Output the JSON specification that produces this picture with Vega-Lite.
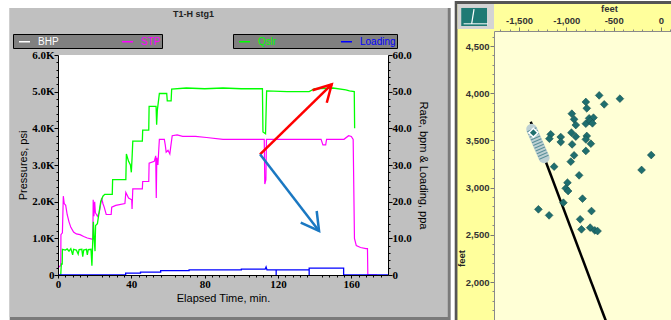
{
  "$schema": "https://vega.github.io/schema/vega-lite/v6.json",
  "background": "white",
  "padding": {"left": 9, "top": 0, "right": 0, "bottom": 0},
  "autosize": {"type": "pad"},
  "bounds": "flush",
  "spacing": 106,
  "config": {"view": {"stroke": null}, "font": "Liberation Sans"},
  "hconcat": [
    {
      "width": 330,
      "height": 244,
      "title": {"text": "T1-H stg1", "anchor": "start", "frame": "group", "dx": 115, "offset": -18, "baseline": "alphabetic", "fontSize": 9, "font": "Liberation Sans", "fontWeight": "bold", "color": "#222222"},
      "layer": [
        {
          "layer": [
            {
              "data": {"values": [{}]},
              "mark": {"type": "rect", "color": "#7a7a7a", "clip": false},
              "encoding": {
                "x": {"datum": -26.35, "type": "quantitative", "scale": {"domain": [0, 180], "nice": false}},
                "x2": {"datum": 214.2},
                "y": {"datum": -1227, "type": "quantitative", "scale": {"domain": [0, 6000], "range": [244, 24], "nice": false}},
                "y2": {"datum": 7282}
              }
            },
            {
              "data": {"values": [{}]},
              "mark": {"type": "rect", "color": "#c0c0c0", "clip": false},
              "encoding": {
                "x": {"datum": -26.35, "type": "quantitative", "scale": {"domain": [0, 180], "nice": false}},
                "x2": {"datum": 212.6},
                "y": {"datum": -1145, "type": "quantitative", "scale": {"domain": [0, 6000], "range": [244, 24], "nice": false}},
                "y2": {"datum": 7282}
              }
            },
            {
              "data": {"values": [{}]},
              "mark": {"type": "rect", "color": "#ffffff", "clip": false},
              "encoding": {
                "x": {"datum": 0, "type": "quantitative", "scale": {"domain": [0, 180], "nice": false}},
                "x2": {"datum": 180},
                "y": {"datum": 0, "type": "quantitative", "scale": {"domain": [0, 6000], "range": [244, 24], "nice": false}},
                "y2": {"datum": 6000}
              }
            },
            {
              "data": {"values": [
                {"t": 0, "p": 200, "s": "STP"}, {"t": 1.2, "p": 250, "s": "STP"}, {"t": 1.5, "p": 250, "s": "STP"}, {"t": 1.6, "p": 1100, "s": "STP"}, {"t": 2.4, "p": 1150, "s": "STP"}, {"t": 2.9, "p": 2150, "s": "STP"}, {"t": 3.4, "p": 1950, "s": "STP"}, {"t": 4.2, "p": 1900, "s": "STP"}, {"t": 5, "p": 1650, "s": "STP"}, {"t": 6, "p": 1450, "s": "STP"}, {"t": 7, "p": 1300, "s": "STP"}, {"t": 8.5, "p": 1170, "s": "STP"}, {"t": 10, "p": 1120, "s": "STP"}, {"t": 12, "p": 1100, "s": "STP"}, {"t": 14, "p": 1050, "s": "STP"}, {"t": 16, "p": 1010, "s": "STP"}, {"t": 18.5, "p": 980, "s": "STP"}, {"t": 19, "p": 980, "s": "STP"}, {"t": 19.2, "p": 2050, "s": "STP"}, {"t": 19.6, "p": 1600, "s": "STP"}, {"t": 20, "p": 2000, "s": "STP"}, {"t": 20.4, "p": 1700, "s": "STP"}, {"t": 21.5, "p": 1600, "s": "STP"}, {"t": 22.5, "p": 1700, "s": "STP"}, {"t": 23, "p": 1850, "s": "STP"}, {"t": 23.8, "p": 2100, "s": "STP"}, {"t": 24.5, "p": 1950, "s": "STP"}, {"t": 25.2, "p": 1850, "s": "STP"}, {"t": 26.3, "p": 1650, "s": "STP"}, {"t": 29, "p": 1650, "s": "STP"}, {"t": 29.3, "p": 1850, "s": "STP"}, {"t": 31.5, "p": 1900, "s": "STP"}, {"t": 36.5, "p": 1950, "s": "STP"}, {"t": 37, "p": 2250, "s": "STP"}, {"t": 38.5, "p": 2100, "s": "STP"}, {"t": 40.2, "p": 2050, "s": "STP"}, {"t": 40.4, "p": 1800, "s": "STP"}, {"t": 40.8, "p": 2350, "s": "STP"}, {"t": 46, "p": 2350, "s": "STP"}, {"t": 46.2, "p": 2550, "s": "STP"}, {"t": 49.5, "p": 2550, "s": "STP"}, {"t": 49.7, "p": 3050, "s": "STP"}, {"t": 52.5, "p": 3100, "s": "STP"}, {"t": 53.3, "p": 3250, "s": "STP"}, {"t": 53.6, "p": 2100, "s": "STP"}, {"t": 53.9, "p": 3200, "s": "STP"}, {"t": 54.5, "p": 3000, "s": "STP"}, {"t": 55, "p": 3450, "s": "STP"}, {"t": 55.3, "p": 3700, "s": "STP"}, {"t": 58, "p": 3700, "s": "STP"}, {"t": 58.5, "p": 3550, "s": "STP"}, {"t": 59, "p": 3350, "s": "STP"}, {"t": 60, "p": 3400, "s": "STP"}, {"t": 61, "p": 3300, "s": "STP"}, {"t": 61.5, "p": 3500, "s": "STP"}, {"t": 62.3, "p": 3800, "s": "STP"}, {"t": 65, "p": 3820, "s": "STP"}, {"t": 68, "p": 3780, "s": "STP"}, {"t": 75, "p": 3780, "s": "STP"}, {"t": 81, "p": 3750, "s": "STP"}, {"t": 90, "p": 3700, "s": "STP"}, {"t": 100, "p": 3700, "s": "STP"}, {"t": 112.5, "p": 3700, "s": "STP"}, {"t": 112.8, "p": 2480, "s": "STP"}, {"t": 113.4, "p": 2600, "s": "STP"}, {"t": 113.7, "p": 3700, "s": "STP"}, {"t": 143.5, "p": 3700, "s": "STP"}, {"t": 144.5, "p": 3550, "s": "STP"}, {"t": 146, "p": 3550, "s": "STP"}, {"t": 146.5, "p": 3700, "s": "STP"}, {"t": 156, "p": 3700, "s": "STP"}, {"t": 158.5, "p": 3800, "s": "STP"}, {"t": 160, "p": 3780, "s": "STP"}, {"t": 161, "p": 3700, "s": "STP"}, {"t": 161.7, "p": 1000, "s": "STP"}, {"t": 162.7, "p": 800, "s": "STP"}, {"t": 165, "p": 750, "s": "STP"}, {"t": 168, "p": 720, "s": "STP"}, {"t": 168.8, "p": 720, "s": "STP"}, {"t": 169, "p": 0, "s": "STP"}, {"t": 174, "p": 0, "s": "STP"}
              ]},
              "mark": {"type": "line", "strokeWidth": 1.2},
              "encoding": {
                "x": {"field": "t", "type": "quantitative", "scale": {"domain": [0, 180], "nice": false},
                  "axis": {"orient": "bottom", "values": [0, 20, 40, 60, 80, 100, 120, 140, 160, 180], "title": "Elapsed Time, min.", "labelFont": "Liberation Serif", "labelFontWeight": "bold", "labelFontSize": 11, "labelColor": "#000000", "tickColor": "#000000", "domainColor": "#000000", "tickSize": 3, "labelPadding": 0, "titleFont": "Liberation Sans", "titleFontSize": 11, "titleFontWeight": "normal", "titleColor": "#000000", "titlePadding": 3, "grid": false, "zindex": 1, "labelFlush": false}},
                "y": {"field": "p", "type": "quantitative", "scale": {"domain": [0, 6000], "range": [244, 24], "nice": false},
                  "axis": {"orient": "left", "values": [0, 1000, 2000, 3000, 4000, 5000, 6000], "labelExpr": "datum.value == 0 ? '0' : format(datum.value / 1000, '.1f') + 'K'", "title": "Pressures, psi", "labelFont": "Liberation Serif", "labelFontWeight": "bold", "labelFontSize": 11, "labelColor": "#000000", "tickColor": "#000000", "domainColor": "#000000", "tickSize": 4, "labelPadding": 0, "titleFont": "Liberation Sans", "titleFontSize": 11, "titleFontWeight": "normal", "titleColor": "#000000", "titlePadding": 3, "grid": false, "zindex": 1, "labelFlush": false}},
                "color": {"field": "s", "type": "nominal", "scale": {"domain": ["BHP", "STP"], "range": ["#ffffff", "#ff00ff"]},
                  "legend": {"orient": "none", "legendX": -45, "legendY": 3, "direction": "horizontal", "columns": 2, "title": null, "fillColor": "#808080", "strokeColor": "#000000", "padding": 1, "symbolType": "stroke", "symbolSize": 121, "symbolStrokeWidth": 1.5, "symbolOffset": 4, "labelFont": "Liberation Sans", "labelFontSize": 10, "labelOffset": 7, "columnPadding": 58, "labelExpr": "datum.value == 'STP' ? 'STP                       ' : datum.label", "encode": {"labels": {"update": {"fill": {"signal": "datum.value == 'STP' ? '#ff00ff' : '#ffffff'"}}}}}}
              }
            }
          ]
        },
        {
          "data": {"values": [
            {"t": 1.5, "r": 0, "s": "Qslr"}, {"t": 1.8, "r": 3, "s": "Qslr"}, {"t": 2.3, "r": 3, "s": "Qslr"}, {"t": 2.4, "r": 7, "s": "Qslr"}, {"t": 4, "r": 6.8, "s": "Qslr"}, {"t": 5, "r": 7.1, "s": "Qslr"}, {"t": 6, "r": 6.5, "s": "Qslr"}, {"t": 7, "r": 7.2, "s": "Qslr"}, {"t": 8, "r": 5.5, "s": "Qslr"}, {"t": 8.5, "r": 7, "s": "Qslr"}, {"t": 10, "r": 6.8, "s": "Qslr"}, {"t": 11, "r": 5.7, "s": "Qslr"}, {"t": 11.5, "r": 6.9, "s": "Qslr"}, {"t": 13, "r": 7, "s": "Qslr"}, {"t": 13.5, "r": 5, "s": "Qslr"}, {"t": 14, "r": 6.8, "s": "Qslr"}, {"t": 15.5, "r": 7, "s": "Qslr"}, {"t": 16, "r": 5.5, "s": "Qslr"}, {"t": 16.5, "r": 6.9, "s": "Qslr"}, {"t": 18, "r": 7, "s": "Qslr"}, {"t": 18.5, "r": 2.5, "s": "Qslr"}, {"t": 18.8, "r": 7, "s": "Qslr"}, {"t": 19.3, "r": 14.5, "s": "Qslr"}, {"t": 19.7, "r": 10, "s": "Qslr"}, {"t": 20.2, "r": 6.5, "s": "Qslr"}, {"t": 20.5, "r": 13.5, "s": "Qslr"}, {"t": 21.5, "r": 14, "s": "Qslr"}, {"t": 22.4, "r": 17, "s": "Qslr"}, {"t": 23.3, "r": 20, "s": "Qslr"}, {"t": 24.5, "r": 21.5, "s": "Qslr"}, {"t": 25.5, "r": 22, "s": "Qslr"}, {"t": 29.6, "r": 22, "s": "Qslr"}, {"t": 29.8, "r": 26, "s": "Qslr"}, {"t": 37, "r": 26, "s": "Qslr"}, {"t": 37.3, "r": 33, "s": "Qslr"}, {"t": 38.5, "r": 31, "s": "Qslr"}, {"t": 39.5, "r": 30, "s": "Qslr"}, {"t": 40, "r": 28, "s": "Qslr"}, {"t": 40.4, "r": 32, "s": "Qslr"}, {"t": 40.8, "r": 36.5, "s": "Qslr"}, {"t": 46, "r": 36.5, "s": "Qslr"}, {"t": 46.2, "r": 39.5, "s": "Qslr"}, {"t": 49.5, "r": 39.5, "s": "Qslr"}, {"t": 49.7, "r": 46, "s": "Qslr"}, {"t": 53.5, "r": 46, "s": "Qslr"}, {"t": 53.8, "r": 41, "s": "Qslr"}, {"t": 54.2, "r": 45, "s": "Qslr"}, {"t": 55.3, "r": 49.5, "s": "Qslr"}, {"t": 59.3, "r": 49.5, "s": "Qslr"}, {"t": 59.6, "r": 47.5, "s": "Qslr"}, {"t": 61.7, "r": 47.5, "s": "Qslr"}, {"t": 62, "r": 50.7, "s": "Qslr"}, {"t": 70, "r": 51, "s": "Qslr"}, {"t": 80, "r": 50.8, "s": "Qslr"}, {"t": 90, "r": 51, "s": "Qslr"}, {"t": 100, "r": 50.8, "s": "Qslr"}, {"t": 111.5, "r": 50.8, "s": "Qslr"}, {"t": 111.8, "r": 39, "s": "Qslr"}, {"t": 113.2, "r": 38.5, "s": "Qslr"}, {"t": 113.8, "r": 50.2, "s": "Qslr"}, {"t": 125, "r": 50, "s": "Qslr"}, {"t": 137, "r": 50, "s": "Qslr"}, {"t": 140, "r": 50.8, "s": "Qslr"}, {"t": 150, "r": 51, "s": "Qslr"}, {"t": 157, "r": 50.5, "s": "Qslr"}, {"t": 159, "r": 50.2, "s": "Qslr"}, {"t": 161.6, "r": 50, "s": "Qslr"}, {"t": 161.8, "r": 40, "s": "Qslr"},
            {"t": 0, "r": 0, "s": "Loading"}, {"t": 36.9, "r": 0, "s": "Loading"}, {"t": 36.9, "r": 0.5, "s": "Loading"}, {"t": 45, "r": 0.5, "s": "Loading"}, {"t": 45, "r": 0.8, "s": "Loading"}, {"t": 56, "r": 0.8, "s": "Loading"}, {"t": 56, "r": 1.2, "s": "Loading"}, {"t": 71.5, "r": 1.2, "s": "Loading"}, {"t": 71.5, "r": 1.4, "s": "Loading"}, {"t": 100, "r": 1.4, "s": "Loading"}, {"t": 100, "r": 1.6, "s": "Loading"}, {"t": 113, "r": 1.6, "s": "Loading"}, {"t": 113.5, "r": 2.2, "s": "Loading"}, {"t": 114, "r": 1.4, "s": "Loading"}, {"t": 119, "r": 1.4, "s": "Loading"}, {"t": 119, "r": 0, "s": "Loading"}, {"t": 119, "r": 1.4, "s": "Loading"}, {"t": 137, "r": 1.4, "s": "Loading"}, {"t": 137, "r": 0, "s": "Loading"}, {"t": 137, "r": 1.9, "s": "Loading"}, {"t": 155.8, "r": 1.9, "s": "Loading"}, {"t": 155.8, "r": 0, "s": "Loading"}, {"t": 180, "r": 0, "s": "Loading"}
          ]},
          "mark": {"type": "line", "strokeWidth": 1.3},
          "encoding": {
            "x": {"field": "t", "type": "quantitative", "axis": null},
            "y": {"field": "r", "type": "quantitative", "scale": {"domain": [0, 60], "range": [244, 24], "nice": false},
              "axis": {"orient": "right", "values": [0, 10, 20, 30, 40, 50, 60], "labelExpr": "datum.value == 0 ? '0' : format(datum.value, '.1f')", "title": "Rate, bpm & Loading, ppa", "labelFont": "Liberation Serif", "labelFontWeight": "bold", "labelFontSize": 11, "labelColor": "#000000", "tickColor": "#000000", "domainColor": "#000000", "tickSize": 4, "labelPadding": 0, "titleFont": "Liberation Sans", "titleFontSize": 11, "titleFontWeight": "normal", "titleColor": "#000000", "titlePadding": 6, "grid": false, "zindex": 1, "labelFlush": false}},
            "color": {"field": "s", "type": "nominal", "scale": {"domain": ["Qslr", "Loading"], "range": ["#00ff00", "#0000ff"]},
              "legend": {"orient": "none", "legendX": 175, "legendY": 3, "direction": "horizontal", "columns": 2, "title": null, "fillColor": "#808080", "strokeColor": "#000000", "padding": 1, "symbolType": "stroke", "symbolSize": 121, "symbolStrokeWidth": 1.5, "symbolOffset": 4, "labelFont": "Liberation Sans", "labelFontSize": 10, "labelOffset": 7, "columnPadding": 59, "labelExpr": "datum.value == 'Loading' ? 'Loading                 ' : datum.label", "encode": {"labels": {"update": {"fill": {"signal": "datum.value == 'Qslr' ? '#00ff00' : '#0000ff'"}}}}}}
          }
        },
        {
          "layer": [
            {
              "data": {"values": [
                {"g": "shaft", "k": 1, "t": 110.2, "p": 3291}, {"g": "shaft", "k": 2, "t": 149.3, "p": 5200},
                {"g": "head", "k": 1, "t": 138.8, "p": 5037}, {"g": "head", "k": 2, "t": 149.3, "p": 5200}, {"g": "head", "k": 3, "t": 146.6, "p": 4699}
              ]},
              "mark": {"type": "line", "color": "#ff0000", "strokeWidth": 2.5},
              "encoding": {
                "x": {"field": "t", "type": "quantitative", "axis": null},
                "y": {"field": "p", "type": "quantitative", "scale": {"domain": [0, 6000], "range": [244, 24], "nice": false}, "axis": null},
                "detail": {"field": "g"},
                "order": {"field": "k"}
              }
            },
            {
              "data": {"values": [
                {"g": "shaft", "k": 1, "t": 110.2, "p": 3291}, {"g": "shaft", "k": 2, "t": 142.4, "p": 1200},
                {"g": "head", "k": 1, "t": 132.4, "p": 1426}, {"g": "head", "k": 2, "t": 142.4, "p": 1200}, {"g": "head", "k": 3, "t": 141.1, "p": 1745}
              ]},
              "mark": {"type": "line", "color": "#1a78c2", "strokeWidth": 2.5},
              "encoding": {
                "x": {"field": "t", "type": "quantitative", "axis": null},
                "y": {"field": "p", "type": "quantitative", "scale": {"domain": [0, 6000], "range": [244, 24], "nice": false}, "axis": null},
                "detail": {"field": "g"},
                "order": {"field": "k"}
              }
            }
          ]
        },
        {
          "data": {"values": [{}]},
          "mark": {"type": "point", "opacity": 0},
          "encoding": {
            "x": {"datum": 0, "type": "quantitative",
              "axis": {"orient": "bottom", "values": [4, 8, 12, 16, 24, 28, 32, 36, 44, 48, 52, 56, 64, 68, 72, 76, 84, 88, 92, 96, 104, 108, 112, 116, 124, 128, 132, 136, 144, 148, 152, 156, 164, 168, 172, 176], "labels": false, "domain": false, "title": null, "tickSize": 2, "tickColor": "#000000", "grid": false, "zindex": 1}},
            "y": {"datum": 0, "type": "quantitative", "scale": {"domain": [0, 6000], "range": [244, 24], "nice": false},
              "axis": {"orient": "left", "values": [200, 400, 600, 800, 1200, 1400, 1600, 1800, 2200, 2400, 2600, 2800, 3200, 3400, 3600, 3800, 4200, 4400, 4600, 4800, 5200, 5400, 5600, 5800], "labels": false, "domain": false, "title": null, "tickSize": 2, "tickColor": "#000000", "grid": false, "zindex": 1}}
          }
        },
        {
          "data": {"values": [{}]},
          "mark": {"type": "point", "opacity": 0},
          "encoding": {
            "x": {"datum": 0, "type": "quantitative", "axis": null},
            "y": {"datum": 0, "type": "quantitative", "scale": {"domain": [0, 60], "range": [244, 24], "nice": false},
              "axis": {"orient": "right", "values": [2, 4, 6, 8, 12, 14, 16, 18, 22, 24, 26, 28, 32, 34, 36, 38, 42, 44, 46, 48, 52, 54, 56, 58], "labels": false, "domain": false, "title": null, "tickSize": 2, "tickColor": "#000000", "grid": false, "zindex": 1}}
          }
        }
      ],
      "resolve": {"scale": {"y": "independent", "color": "independent"}, "axis": {"x": "independent"}}
    },
    {
      "width": 177,
      "height": 290,
      "layer": [
        {
          "layer": [
            {
              "data": {"values": [{}]},
              "mark": {"type": "rect", "color": "#555555", "clip": false},
              "encoding": {
                "x": {"datum": -2179, "type": "quantitative", "scale": {"domain": [-1764, 105.7], "nice": false, "zero": false}},
                "x2": {"datum": 105.7},
                "y": {"datum": 1587, "type": "quantitative", "scale": {"domain": [1587, 4659], "nice": false, "zero": false}},
                "y2": {"datum": 4977}
              }
            },
            {
              "data": {"values": [{}]},
              "mark": {"type": "rect", "color": "#ffff9c", "clip": false},
              "encoding": {
                "x": {"datum": -2150, "type": "quantitative", "scale": {"domain": [-1764, 105.7], "nice": false, "zero": false}},
                "x2": {"datum": 105.7},
                "y": {"datum": 1587, "type": "quantitative", "scale": {"domain": [1587, 4659], "nice": false, "zero": false}},
                "y2": {"datum": 4945}
              }
            },
            {
              "data": {"values": [{}]},
              "mark": {"type": "rect", "color": "#d4d4d4", "clip": false},
              "encoding": {
                "x": {"datum": -2150, "type": "quantitative", "scale": {"domain": [-1764, 105.7], "nice": false, "zero": false}},
                "x2": {"datum": -1764},
                "y": {"datum": 4680, "type": "quantitative", "scale": {"domain": [1587, 4659], "nice": false, "zero": false}},
                "y2": {"datum": 4945}
              }
            },
            {
              "data": {"values": [{}]},
              "mark": {"type": "rect", "color": "#1f7a74", "clip": false},
              "encoding": {
                "x": {"datum": -2110, "type": "quantitative", "scale": {"domain": [-1764, 105.7], "nice": false, "zero": false}},
                "x2": {"datum": -1838},
                "y": {"datum": 4712, "type": "quantitative", "scale": {"domain": [1587, 4659], "nice": false, "zero": false}},
                "y2": {"datum": 4903}
              }
            },
            {
              "data": {"values": [{"gx": -1975, "gy": 4890}, {"gx": -2000, "gy": 4735}]},
              "mark": {"type": "line", "color": "#ffffff", "strokeWidth": 1.2, "clip": false},
              "encoding": {
                "x": {"field": "gx", "type": "quantitative", "scale": {"domain": [-1764, 105.7], "nice": false, "zero": false}},
                "y": {"field": "gy", "type": "quantitative", "scale": {"domain": [1587, 4659], "nice": false, "zero": false}}
              }
            },
            {
              "data": {"values": [{"gx": -2085, "gy": 4735}, {"gx": -1830, "gy": 4735}]},
              "mark": {"type": "line", "color": "#ffffff", "strokeWidth": 1, "clip": false},
              "encoding": {
                "x": {"field": "gx", "type": "quantitative", "scale": {"domain": [-1764, 105.7], "nice": false, "zero": false}},
                "y": {"field": "gy", "type": "quantitative", "scale": {"domain": [1587, 4659], "nice": false, "zero": false}}
              }
            },
            {
              "data": {"values": [{}]},
              "mark": {"type": "rect", "color": "#ffffd6", "clip": false},
              "encoding": {
                "x": {"datum": -1764, "type": "quantitative", "scale": {"domain": [-1764, 105.7], "nice": false, "zero": false}},
                "x2": {"datum": 105.7},
                "y": {"datum": 1587, "type": "quantitative", "scale": {"domain": [1587, 4659], "nice": false, "zero": false}},
                "y2": {"datum": 4659}
              }
            },
            {
              "data": {"values": [{"x": -1376, "y": 3698}, {"x": -582, "y": 1587}]},
              "mark": {"type": "line", "color": "#000000", "strokeWidth": 2.5},
              "encoding": {
                "x": {"field": "x", "type": "quantitative", "scale": {"domain": [-1764, 105.7], "nice": false, "zero": false}},
                "y": {"field": "y", "type": "quantitative", "scale": {"domain": [1587, 4659], "nice": false, "zero": false}}
              }
            },
            {
              "data": {"values": [{"x": -1366, "y": 3617}, {"x": -1235, "y": 3317}]},
              "mark": {"type": "line", "color": "#bdd0d3", "strokeWidth": 11, "strokeCap": "round"},
              "encoding": {
                "x": {"field": "x", "type": "quantitative", "scale": {"domain": [-1764, 105.7], "nice": false, "zero": false}},
                "y": {"field": "y", "type": "quantitative", "scale": {"domain": [1587, 4659], "nice": false, "zero": false}}
              }
            },
            {
              "data": {"values": [{"x": -1366, "y": 3617}, {"x": -1235, "y": 3317}]},
              "mark": {"type": "line", "color": "#5a9098", "strokeWidth": 10, "strokeDash": [1, 2]},
              "encoding": {
                "x": {"field": "x", "type": "quantitative", "scale": {"domain": [-1764, 105.7], "nice": false, "zero": false}},
                "y": {"field": "y", "type": "quantitative", "scale": {"domain": [1587, 4659], "nice": false, "zero": false}}
              }
            },
            {
              "data": {"values": [
                {"x": -653, "y": 3977}, {"x": -434, "y": 3942}, {"x": -600, "y": 3882}, {"x": -794, "y": 3907}, {"x": -784, "y": 3840},
                {"x": -942, "y": 3783}, {"x": -918, "y": 3723}, {"x": -759, "y": 3734}, {"x": -713, "y": 3741}, {"x": -794, "y": 3677},
                {"x": -900, "y": 3663}, {"x": -748, "y": 3705}, {"x": -724, "y": 3681}, {"x": -946, "y": 3582}, {"x": -900, "y": 3540},
                {"x": -784, "y": 3547}, {"x": -794, "y": 3511}, {"x": -741, "y": 3465}, {"x": -939, "y": 3458}, {"x": -1059, "y": 3536},
                {"x": -1165, "y": 3564}, {"x": -1179, "y": 3518}, {"x": -1059, "y": 3483}, {"x": -918, "y": 3342}, {"x": -794, "y": 3388},
                {"x": -953, "y": 3275}, {"x": -1129, "y": 3222}, {"x": -865, "y": 3130}, {"x": -988, "y": 3052}, {"x": -1006, "y": 2992},
                {"x": -981, "y": 2964}, {"x": -1031, "y": 2840}, {"x": -829, "y": 2883}, {"x": -1295, "y": 2770}, {"x": -1182, "y": 2706},
                {"x": -854, "y": 2664}, {"x": -734, "y": 2752}, {"x": -840, "y": 2558}, {"x": -748, "y": 2576}, {"x": -699, "y": 2547},
                {"x": -670, "y": 2540}, {"x": -205, "y": 3187}, {"x": -103, "y": 3345}
              ]},
              "mark": {"type": "point", "shape": "diamond", "filled": true, "fill": "#1f6e6e", "stroke": "#154f4f", "strokeWidth": 0.6, "size": 60, "opacity": 1},
              "encoding": {
                "x": {"field": "x", "type": "quantitative", "scale": {"domain": [-1764, 105.7], "nice": false, "zero": false},
                  "axis": {"orient": "top", "values": [-1500, -1000, -500, 0], "labelExpr": "replace(format(datum.value, ','), '\u2212', '-')", "title": "feet", "labelFont": "Liberation Sans", "labelFontWeight": "bold", "labelFontSize": 9.5, "labelColor": "#333333", "tickColor": "#777777", "domainColor": "#8a8a8a", "tickSize": 4, "labelPadding": 2, "titleFont": "Liberation Sans", "titleFontSize": 9.5, "titleFontWeight": "bold", "titleColor": "#333333", "titleX": 115, "titleY": -23, "titleAlign": "center", "titleBaseline": "middle", "grid": false, "zindex": 1, "labelFlush": false}},
                "y": {"field": "y", "type": "quantitative", "scale": {"domain": [1587, 4659], "nice": false, "zero": false},
                  "axis": {"orient": "left", "values": [2000, 2500, 3000, 3500, 4000, 4500], "labelExpr": "format(datum.value, ',')", "title": "feet", "labelFont": "Liberation Sans", "labelFontWeight": "bold", "labelFontSize": 9.5, "labelColor": "#333333", "tickColor": "#777777", "domainColor": "#8a8a8a", "tickSize": 4, "labelPadding": 1, "titleFont": "Liberation Sans", "titleFontSize": 9.5, "titleFontWeight": "bold", "titleColor": "#222222", "titleX": -33, "titleY": 227, "titleAngle": -90, "titleAlign": "center", "titleBaseline": "middle", "grid": false, "zindex": 1, "labelFlush": false}}
              }
            },
            {
              "data": {"values": [{"x": -1348, "y": 3582}]},
              "mark": {"type": "point", "shape": "diamond", "filled": true, "fill": "#1f6e6e", "stroke": "#ffffff", "strokeWidth": 1.5, "size": 80, "opacity": 1},
              "encoding": {
                "x": {"field": "x", "type": "quantitative", "scale": {"domain": [-1764, 105.7], "nice": false, "zero": false}},
                "y": {"field": "y", "type": "quantitative", "scale": {"domain": [1587, 4659], "nice": false, "zero": false}}
              }
            }
          ]
        },
        {
          "data": {"values": [{}]},
          "mark": {"type": "point", "opacity": 0},
          "encoding": {
            "x": {"datum": -1700, "type": "quantitative", "scale": {"domain": [-1764, 105.7], "nice": false, "zero": false},
              "axis": {"orient": "top", "values": [-1700, -1600, -1400, -1300, -1200, -1100, -900, -800, -700, -600, -400, -300, -200, -100, 100], "labels": false, "domain": false, "title": null, "tickSize": 2, "tickColor": "#888888", "grid": false, "zindex": 1}},
            "y": {"datum": 4000, "type": "quantitative", "scale": {"domain": [1587, 4659], "nice": false, "zero": false},
              "axis": {"orient": "left", "values": [1600, 1700, 1800, 1900, 2100, 2200, 2300, 2400, 2600, 2700, 2800, 2900, 3100, 3200, 3300, 3400, 3600, 3700, 3800, 3900, 4100, 4200, 4300, 4400, 4600], "labels": false, "domain": false, "title": null, "tickSize": 2, "tickColor": "#888888", "grid": false, "zindex": 1}}
          }
        }
      ],
      "resolve": {"axis": {"x": "independent", "y": "independent"}}
    }
  ]
}
